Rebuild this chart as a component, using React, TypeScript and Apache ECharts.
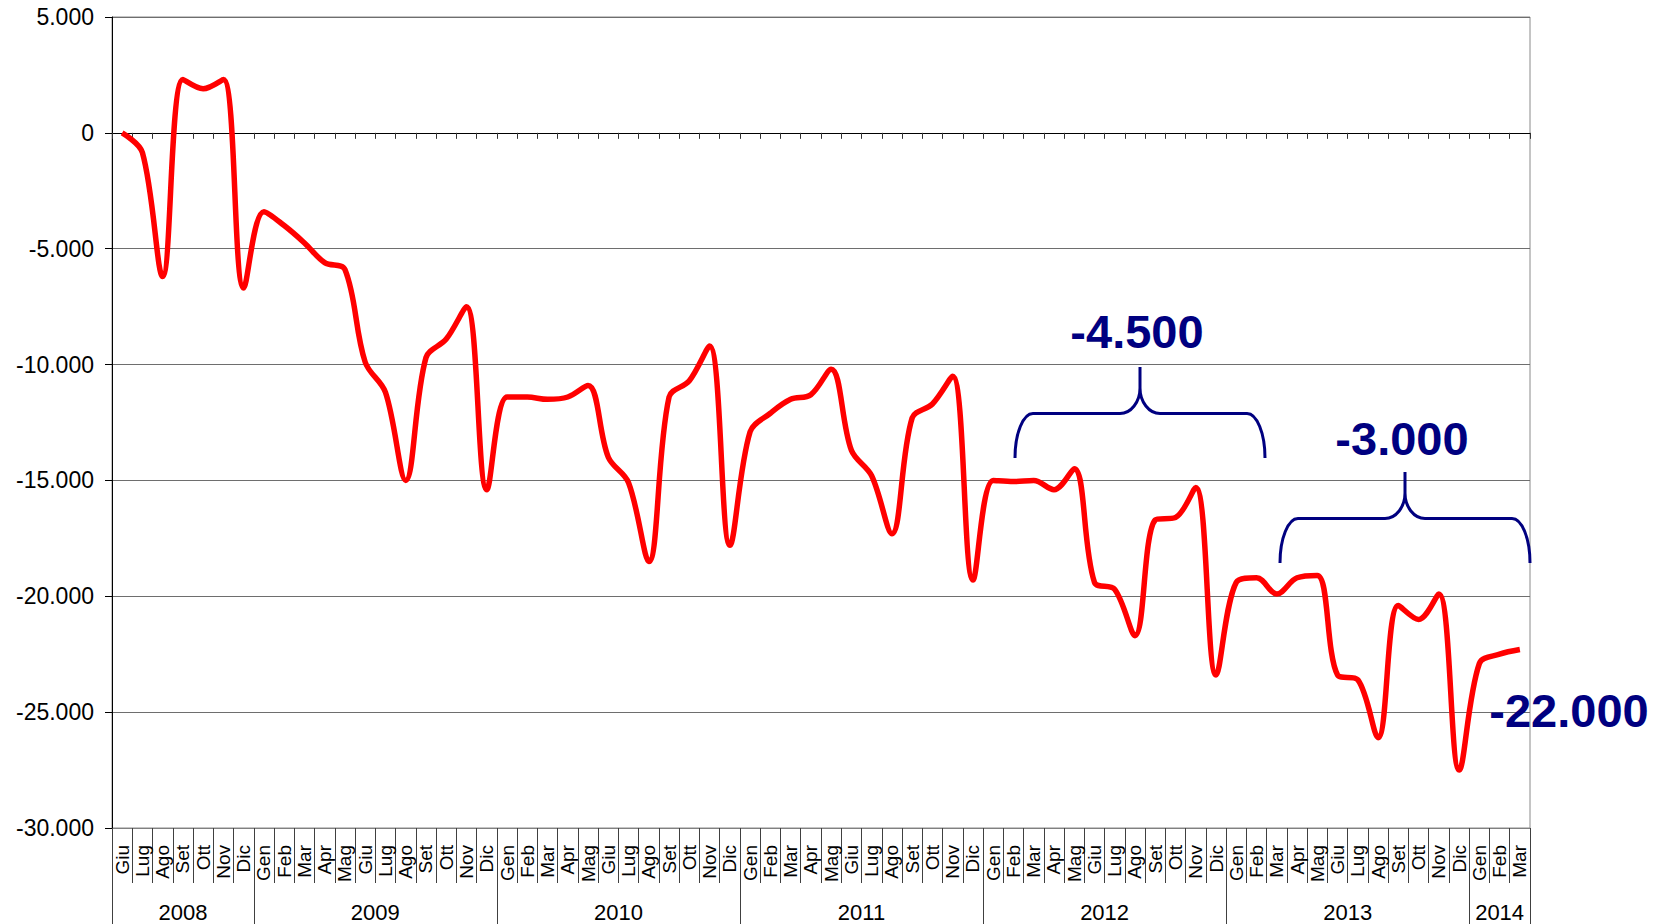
import React, { useEffect, useRef } from 'react';
import * as echarts from 'echarts';

const monthNames = ['Gen', 'Feb', 'Mar', 'Apr', 'Mag', 'Giu', 'Lug', 'Ago', 'Set', 'Ott', 'Nov', 'Dic'];
const months = [
  ...monthNames.slice(5),
  ...monthNames, ...monthNames, ...monthNames, ...monthNames, ...monthNames,
  ...monthNames.slice(0, 3),
];
const years = ['2008', '2009', '2010', '2011', '2012', '2013', '2014'];
const yearBounds = [0, 7, 19, 31, 43, 55, 67, 70];

const values2008 = [0, -850, -6200, 2300, 1900, 2300, -6700];
const values2009 = [-3400, -4000, -4750, -5600, -5900, -9900, -11200, -15000, -9700, -8900, -7500, -15400];
const values2010 = [-11400, -11400, -11500, -11400, -10900, -14000, -15100, -18500, -11400, -10700, -9200, -17800];
const values2011 = [-12900, -12100, -11500, -11300, -10200, -13700, -14800, -17300, -12300, -11700, -10500, -19300];
const values2012 = [-15000, -15050, -15000, -15400, -14500, -19400, -19700, -21700, -16700, -16600, -15300, -23400];
const values2013 = [-19400, -19200, -19900, -19200, -19100, -23400, -23600, -26100, -20400, -21000, -19900, -27500];
const values2014 = [-22900, -22500, -22300];
const values = [...values2008, ...values2009, ...values2010, ...values2011, ...values2012, ...values2013, ...values2014];

const yMin = -30000;
const yMax = 5000;
const yStep = 5000;

const annotationTexts = ['-4.500', '-3.000', '-22.000'];

const FONT = '"Liberation Sans", Arial, sans-serif';
const NAVY = '#000080';

const fmt = (v: number) => {
  const s = Math.abs(v).toString().replace(/\B(?=(\d{3})+(?!\d))/g, '.');
  return (v < 0 ? '-' : '') + s;
};

let registered = false;
function registerBrace() {
  if (registered) return;
  registered = true;
  const d =
    'M0,0 C0,-24.6 8.1,-44.5 18,-44.5 L105,-44.5 C116,-44.5 125,-56 125,-70 L125,-91 ' +
    'M125,-70 C125,-56 134,-44.5 145,-44.5 L232,-44.5 C241.9,-44.5 250,-24.6 250,0';
  echarts.graphic.registerShape('brace', (echarts.graphic as any).extendPath(d, {}));
}

export default function App() {
  const ref = useRef<HTMLDivElement>(null);
  useEffect(() => {
    document.body.style.margin = '0';
    registerBrace();
    const chart = echarts.init(ref.current!, undefined, { renderer: 'svg' });
    const yearMids = years.map((_, i) => (yearBounds[i] + yearBounds[i + 1]) / 2);
    const option: any = {
      animation: false,
      backgroundColor: '#ffffff',
      grid: {
        left: 112,
        right: 134,
        top: 17,
        bottom: 96,
        show: true,
        borderColor: '#8a8a8a',
        borderWidth: 1,
        backgroundColor: 'transparent',
        outerBoundsMode: 'none',
        containLabel: false,
      },
      xAxis: [
        {
          type: 'category',
          data: months,
          position: 'bottom',
          boundaryGap: true,
          axisLine: { show: true, onZero: false, lineStyle: { color: '#808080', width: 1 } },
          axisTick: { show: true, interval: 0, length: 55, lineStyle: { color: '#404040', width: 1 } },
          axisLabel: {
            interval: 0,
            rotate: 90,
            margin: 17,
            fontSize: 19,
            fontFamily: FONT,
            color: '#000',
          },
          splitLine: { show: false },
        },
        {
          type: 'value',
          min: 0,
          max: 70,
          position: 'bottom',
          axisLine: { show: false, onZero: false },
          splitLine: { show: false },
          axisTick: {
            show: true,
            customValues: yearBounds,
            length: 96,
            lineStyle: { color: '#404040', width: 1 },
          },
          axisLabel: {
            show: true,
            customValues: yearMids,
            margin: 73,
            fontSize: 22,
            fontFamily: FONT,
            color: '#000',
            formatter: (v: number) => {
              const i = yearMids.indexOf(v);
              return i >= 0 ? years[i] : '';
            },
          },
        },
        {
          type: 'category',
          data: months,
          position: 'bottom',
          boundaryGap: true,
          axisLine: { show: true, onZero: true, lineStyle: { color: '#000', width: 1 } },
          axisTick: { show: true, interval: 0, length: 6, lineStyle: { color: '#333', width: 1 } },
          axisLabel: { show: false },
          splitLine: { show: false },
        },
      ],
      yAxis: {
        type: 'value',
        min: yMin,
        max: yMax,
        interval: yStep,
        axisLine: { show: true, onZero: false, lineStyle: { color: '#000', width: 1 } },
        axisTick: { show: true, length: 7, lineStyle: { color: '#000', width: 1 } },
        axisLabel: {
          margin: 18,
          fontSize: 23,
          fontFamily: FONT,
          color: '#000',
          formatter: fmt,
        },
        splitLine: { show: true, lineStyle: { color: '#6e6e6e', width: 1 } },
      },
      series: [
        {
          type: 'line',
          xAxisIndex: 0,
          data: values,
          smooth: 0.35,
          showSymbol: false,
          symbol: 'none',
          lineStyle: { color: '#ff0000', width: 5.5 },
          z: 5,
        },
      ],
      graphic: [
        { type: 'brace', x: 1015, y: 458, style: { fill: 'none', stroke: NAVY, lineWidth: 3 }, z: 10 },
        { type: 'brace', x: 1280, y: 563, style: { fill: 'none', stroke: NAVY, lineWidth: 3 }, z: 10 },
        {
          type: 'text', x: 1137, y: 331, z: 11,
          style: { text: annotationTexts[0], fill: NAVY, fontSize: 47, fontWeight: 'bold', fontFamily: FONT, align: 'center', verticalAlign: 'middle' },
        },
        {
          type: 'text', x: 1402, y: 438, z: 11,
          style: { text: annotationTexts[1], fill: NAVY, fontSize: 47, fontWeight: 'bold', fontFamily: FONT, align: 'center', verticalAlign: 'middle' },
        },
        {
          type: 'text', x: 1569, y: 710, z: 11,
          style: { text: annotationTexts[2], fill: NAVY, fontSize: 47, fontWeight: 'bold', fontFamily: FONT, align: 'center', verticalAlign: 'middle' },
        },
      ],
    };
    chart.setOption(option);
    return () => chart.dispose();
  }, []);
  return <div ref={ref} style={{ width: 1664, height: 924 }} />;
}
